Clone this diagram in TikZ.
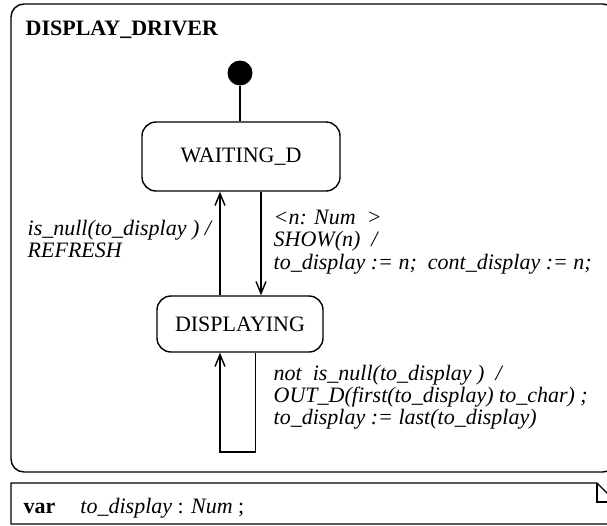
\documentclass[tikz,border=0pt]{standalone}
\usepackage{fontspec}
\setmainfont{Liberation Serif}
\usetikzlibrary{arrows.meta}
\begin{document}
\begin{tikzpicture}[x=1pt,y=-1pt,
  line width=1.4pt,
  txt/.style={font=\fontsize{22}{22}\selectfont},
  state/.style={draw, rounded corners=14pt, txt, inner sep=0pt},
  lbl/.style={anchor=base west, inner sep=0pt, txt, font=\fontsize{22}{22}\selectfont\itshape},
  flow/.style={-{Straight Barb[length=12pt,width=10pt]}},
]
\useasboundingbox (0,0) rectangle (607,525);
\clip (0,0) rectangle (607,525);

% enclosing state frame
\draw[rounded corners=13pt] (11,4) rectangle (616,472);
\node[anchor=base west, inner sep=0pt, font=\fontsize{22}{22}\selectfont\bfseries] (title) at (25,35) {DISPLAY\_DRIVER};

% states
\node[circle, fill, inner sep=0pt, minimum size=25pt] (init) at (240,73) {};
\node[state, minimum width=198pt, minimum height=69pt] (wait) at (241,156.5) {WAITING\_D};
\node[state, minimum width=166pt, minimum height=56pt] (disp) at (240,324) {DISPLAYING};

% columns of the transitions
\coordinate (colL) at (220,0);
\coordinate (colR) at (261,0);
\coordinate (loopR) at (255.5,0);
\coordinate (loopB) at (220,452);

\draw (init.south) -- (init.south |- wait.north);
\draw[flow] (disp.north -| colL) -- (wait.south -| colL);
\draw[flow] (wait.south -| colR) -- (disp.north -| colR);
\draw[flow] (disp.south -| loopR) |- (loopB) -- (disp.south -| colL);

% transition labels
\node[lbl] (g1) at (27,235) {is\_null(to\_display )\ /};
\node[lbl] (g2) at (27,257) {REFRESH};

\node[lbl] (s1) at (273,224) {\textless n: Num\ \ \textgreater};
\node[lbl] (s2) at (273,246.5) {SHOW(n)\ \ /};
\node[lbl] (s3) at (273,269) {to\_display := n;\ \ cont\_display := n;};

\node[lbl] (o1) at (273,380) {not\ \ is\_null(to\_display )\ \ /};
\node[lbl] (o2) at (273,402) {OUT\_D(first(to\_display) to\_char) ;};
\node[lbl] (o3) at (273,424) {to\_display := last(to\_display)};

% declaration note with folded corner
\draw (11,483) -- (597,483) -- (616,502) -- (616,524) -- (11,524) -- cycle;
\draw (597,483) -- (597,502) -- (616,502);
\node[anchor=base west, inner sep=0pt, txt] (decl) at (23,513)
  {\textbf{var}\hspace{25pt}\textit{to\_display} : \textit{Num} ;};
\end{tikzpicture}
\end{document}
